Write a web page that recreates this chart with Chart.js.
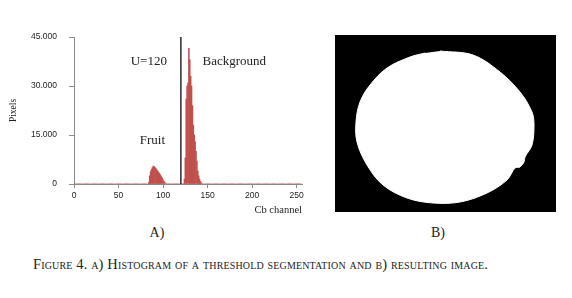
<!DOCTYPE html>
<html lang="en">
<head>
    <meta charset="UTF-8">
    <title>Figure 4</title>
    <script src="https://cdn.jsdelivr.net/npm/chart.js"></script>
    <style>
        body {
            background-color: white;
            margin: 0;
            padding: 0;
        }
        .figure {
            position: relative;
            width: 572px;
            height: 298px;
            overflow: hidden;
            font-family: 'Liberation Serif', 'DejaVu Serif', serif;
            color: #222;
        }
        #histBox { position: absolute; left: 0; top: 0; width: 320px; height: 225px; }
        #maskBox { position: absolute; left: 335px; top: 35px; width: 221px; height: 177px; }
        .panel-label {
            position: absolute;
            font-size: 14px;
            transform: translate(-50%, -50%);
        }
        .caption {
            position: absolute;
            left: 33px;
            top: 256px;
            font-size: 14.5px;
            letter-spacing: 0.15px;
            font-variant: small-caps;
            white-space: nowrap;
        }
    </style>
</head>
<body>
<div class="figure">
    <div id="histBox"><canvas id="histChart"></canvas></div>
    <div id="maskBox"><canvas id="maskChart"></canvas></div>
    <div class="panel-label" style="left:157px; top:233px;">A)</div>
    <div class="panel-label" style="left:438px; top:233px;">B)</div>
    <div class="caption">Figure 4. a) Histogram of a threshold segmentation and b) resulting image.</div>
</div>

<script>
    // histogram of the Cb channel (bins 0..255), only non-zero bins listed
    const fruitStart = 84;
    const fruitCounts = [500, 2500, 3800, 4500, 5000, 5500, 5300, 5000, 4700, 4300,
                         4000, 3600, 3200, 2800, 2300, 1800, 1300, 800, 400, 150];
    const backStart = 124;
    const backCounts = [1500, 8000, 26000, 30000, 31000, 41500, 38000, 33000, 30000, 24000,
                        18000, 15000, 13000, 10000, 7000, 4000, 2500, 1500, 800, 300];
    const threshold = 120;
    const xTicks = [0, 50, 100, 150, 200, 250];
    const yTicks = [0, 15000, 30000, 45000];

    const annotations = [
        { text: 'U=120', x: 84, y: 37600 },
        { text: 'Background', x: 180, y: 37600 },
        { text: 'Fruit', x: 88, y: 13250 }
    ];

    // outline of the segmented fruit, in image pixels (221 x 177)
    const maskW = 221, maskH = 177;
    const blobX = [105, 138, 165, 185, 197, 199, 197, 190, 189, 185, 180, 172, 152, 125,  98,  72,  48,  32,  22, 21, 25, 35, 52, 75, 90];
    const blobY = [ 16,  20,  37,  57,  77,  90, 110, 122, 127, 132, 133, 145, 158, 167, 168, 163, 150, 130, 107, 87, 67, 50, 33, 22, 18];

    const bins = [];
    for (let i = 0; i < 256; i++) {
        let v = 0;
        if (i >= fruitStart && i < fruitStart + fruitCounts.length) v = fruitCounts[i - fruitStart];
        if (i >= backStart && i < backStart + backCounts.length) v = backCounts[i - backStart];
        bins.push({ x: i, y: v });
    }

    const axisGray = '#8a8a8a';
    const tickFont = { family: "'Liberation Sans Narrow', 'Liberation Sans', sans-serif", size: 8.5 };

    const textPlugin = {
        id: 'histText',
        afterDatasetsDraw(chart) {
            const { ctx, scales } = chart;
            ctx.save();
            ctx.fillStyle = '#222';
            ctx.font = "13px 'Liberation Serif', serif";
            ctx.textAlign = 'center';
            ctx.textBaseline = 'middle';
            annotations.forEach(a => {
                ctx.fillText(a.text, scales.x.getPixelForValue(a.x), scales.y.getPixelForValue(a.y));
            });
            ctx.restore();
        }
    };

    new Chart(document.getElementById('histChart'), {
        type: 'bar',
        data: {
            datasets: [
                {
                    type: 'line',
                    data: [{ x: threshold, y: 0 }, { x: threshold, y: 45000 }],
                    borderColor: '#2a2a2a',
                    borderWidth: 1.5,
                    pointRadius: 0,
                    order: 0
                },
                {
                    data: bins,
                    backgroundColor: '#c0504d',
                    borderWidth: 0,
                    barPercentage: 1.0,
                    categoryPercentage: 1.0,
                    order: 1
                }
            ]
        },
        options: {
            responsive: true,
            maintainAspectRatio: false,
            animation: false,
            layout: { padding: { left: 0, top: 37, right: 18, bottom: 0 } },
            plugins: { legend: { display: false }, tooltip: { enabled: false } },
            scales: {
                x: {
                    type: 'linear',
                    min: 0,
                    max: 256,
                    offset: false,
                    afterFit: s => { s.height = 41; },
                    afterBuildTicks: s => { s.ticks = xTicks.map(v => ({ value: v })); },
                    grid: { drawOnChartArea: false, offset: false, color: axisGray, tickLength: 4 },
                    border: { color: axisGray },
                    ticks: {
                        padding: 3,
                        color: '#222',
                        font: tickFont,
                        maxRotation: 0,
                        autoSkip: false
                    },
                    title: {
                        display: true,
                        text: 'Cb channel',
                        align: 'end',
                        color: '#222',
                        font: { family: "'Liberation Serif', serif", size: 10.5 },
                        padding: { top: 0, bottom: 8 }
                    }
                },
                y: {
                    min: 0,
                    max: 45000,
                    afterFit: s => { s.width = 74; },
                    afterBuildTicks: s => { s.ticks = yTicks.map(v => ({ value: v })); },
                    grid: { drawOnChartArea: false, color: axisGray, tickLength: 5 },
                    border: { color: axisGray },
                    ticks: {
                        padding: 12,
                        color: '#222',
                        font: tickFont,
                        callback: v => v.toLocaleString('de-DE', { minimumFractionDigits: 0 }).replace(',', '.')
                    },
                    title: {
                        display: true,
                        text: 'Pixels',
                        color: '#222',
                        font: { family: "'Liberation Serif', serif", size: 9.5 },
                        padding: { top: 8, bottom: 0 }
                    }
                }
            }
        },
        plugins: [textPlugin]
    });

    const blackArea = {
        id: 'blackArea',
        beforeDatasetsDraw(chart) {
            const { ctx, chartArea: a } = chart;
            ctx.save();
            ctx.fillStyle = '#000';
            ctx.fillRect(a.left, a.top, a.right - a.left, a.bottom - a.top);
            ctx.restore();
        }
    };

    new Chart(document.getElementById('maskChart'), {
        type: 'line',
        data: {
            datasets: [{
                data: blobX.map((x, i) => ({ x: x, y: blobY[i] })),
                borderColor: '#fff',
                borderWidth: 1,
                backgroundColor: '#fff',
                fill: 'shape',
                tension: 0.35,
                pointRadius: 0
            }]
        },
        options: {
            responsive: true,
            maintainAspectRatio: false,
            animation: false,
            layout: { padding: 0 },
            plugins: { legend: { display: false }, tooltip: { enabled: false } },
            scales: {
                x: { type: 'linear', min: 0, max: maskW, display: false },
                y: { min: 0, max: maskH, reverse: true, display: false }
            }
        },
        plugins: [blackArea]
    });
</script>
</body>
</html>
